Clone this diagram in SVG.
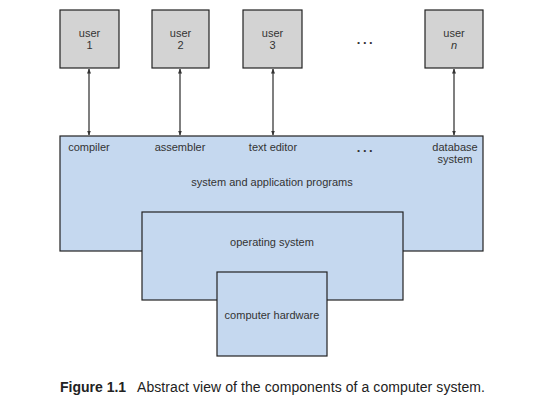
<svg xmlns="http://www.w3.org/2000/svg" width="547" height="404" viewBox="0 0 547 404">
<defs>
<style>
.user{fill:#d3d3d3;stroke:#222;stroke-width:1.2}
.layer{fill:#c5d8ef;stroke:#222;stroke-width:1.2}
.t{font-family:"Liberation Sans",Arial,sans-serif;font-size:11px;fill:#333;text-anchor:middle}
.dots{font-family:"Liberation Sans",Arial,sans-serif;font-size:13px;fill:#333;text-anchor:middle;font-weight:bold;letter-spacing:2.5px}
.conn{stroke:#555;stroke-width:1.5;fill:none;marker-start:url(#ah);marker-end:url(#ah)}
.cap{font-family:"Liberation Sans",Arial,sans-serif;font-size:14px;fill:#222}
</style>
<marker id="ah" viewBox="0 0 10 10" refX="9" refY="5" markerWidth="5" markerHeight="5" orient="auto-start-reverse" markerUnits="userSpaceOnUse">
<path d="M0,1 L10,5 L0,9 z" fill="#333"/>
</marker>
</defs>
<rect width="547" height="404" fill="#fff"/>
<g id="user1"><rect class="user" x="60" y="10" width="59" height="58"/><text class="t" x="89.5" y="37">user</text><text class="t" x="89.5" y="49">1</text></g>
<g id="user2"><rect class="user" x="152" y="10" width="57" height="58"/><text class="t" x="180.5" y="37">user</text><text class="t" x="180.5" y="49">2</text></g>
<g id="user3"><rect class="user" x="243" y="10" width="59" height="58"/><text class="t" x="272.5" y="37">user</text><text class="t" x="272.5" y="49">3</text></g>
<g id="userdots"><text class="dots" x="366" y="44">...</text></g>
<g id="usern"><rect class="user" x="425" y="10" width="58" height="58"/><text class="t" x="454" y="37">user</text><text class="t" x="454" y="49" font-style="italic">n</text></g>
<g id="connectors">
<line class="conn" x1="89" y1="69" x2="89" y2="135"/>
<line class="conn" x1="180" y1="69" x2="180" y2="135"/>
<line class="conn" x1="273" y1="69" x2="273" y2="135"/>
<line class="conn" x1="454" y1="69" x2="454" y2="135"/>
</g>
<g id="programs"><rect class="layer" x="60" y="136" width="423" height="115"/>
<text class="t" x="89" y="151">compiler</text>
<text class="t" x="180" y="151">assembler</text>
<text class="t" x="273" y="151">text editor</text>
<text class="dots" x="366" y="152">...</text>
<text class="t" x="455" y="151">database</text>
<text class="t" x="455" y="163">system</text>
<text class="t" x="272" y="186">system and application programs</text>
</g>
<g id="os"><rect class="layer" x="142" y="212" width="261" height="88"/><text class="t" x="272" y="246">operating system</text></g>
<g id="hardware"><rect class="layer" x="217" y="272" width="110" height="84"/><text class="t" x="272" y="319">computer hardware</text></g>
<text class="cap" x="60" y="392" font-weight="bold" font-size="13.5">Figure 1.1</text>
<text class="cap" x="137" y="392" textLength="348" lengthAdjust="spacing">Abstract view of the components of a computer system.</text>
</svg>
